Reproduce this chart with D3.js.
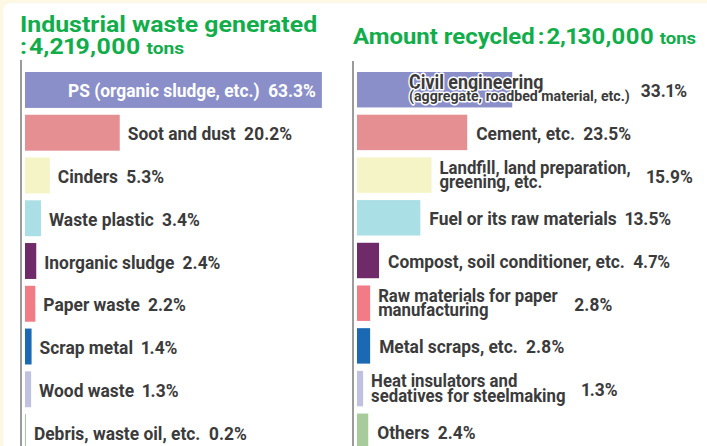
<!DOCTYPE html>
<html><head><meta charset="utf-8">
<script src="https://cdn.jsdelivr.net/npm/d3@7"></script>
<style>body{margin:0;background:#fff}svg{display:block}text{font-variant-numeric:proportional-nums;font-feature-settings:"pnum" 1}</style>
</head><body>
<script>
// ---- data ----
const leftTitle = ["Industrial waste generated", ":", "4,219,000", "tons"];
const rightTitle = ["Amount recycled", ":", "2,130,000", "tons"];
const leftCategories = ["PS (organic sludge, etc.)", "Soot and dust", "Cinders", "Waste plastic", "Inorganic sludge", "Paper waste", "Scrap metal", "Wood waste", "Debris, waste oil, etc."];
const leftValues = [63.3, 20.2, 5.3, 3.4, 2.4, 2.2, 1.4, 1.3, 0.2];
const rightCategories = [["Civil engineering", "(aggregate, roadbed material, etc.)"], ["Cement, etc."], ["Landfill, land preparation,", "greening, etc."], ["Fuel or its raw materials"], ["Compost, soil conditioner, etc."], ["Raw materials for paper", "manufacturing"], ["Metal scraps, etc."], ["Heat insulators and", "sedatives for steelmaking"], ["Others"]];
const rightValues = [33.1, 23.5, 15.9, 13.5, 4.7, 2.8, 2.8, 1.3, 2.4];
const colors = ["#8a8fc9", "#e58f93", "#f5f4c6", "#abdfe6", "#6f2b69", "#f27c86", "#1b68b3", "#c0c0e0", "#a8cb9c"];

// ---- layout ----
const W = 707, H = 446;
const FONT = "Roboto, 'Noto Sans', sans-serif";
const CF = 0.915;  // label horizontal scale
const TCF = 1.13;  // title horizontal scale
const GREEN = "#12ad4b", TXT = "#3b3b3b";

const svg = d3.select("body").append("svg").attr("width", W).attr("height", H);
svg.append("rect").attr("width", W).attr("height", H).attr("fill", "#fdf8e3");
svg.append("rect").attr("x", 3).attr("y", 3).attr("width", W + 20).attr("height", H + 20).attr("rx", 8).attr("fill", "#fff");

const x = d3.scaleLinear().domain([0, 100]).range([0, 469]);
const yL = d3.scaleBand().domain(d3.range(leftValues.length)).range([72, 450]).paddingInner(0.16).paddingOuter(0);
const yR = d3.scaleBand().domain(d3.range(rightValues.length)).range([72, 449]).paddingInner(0.17).paddingOuter(0);

function ctext(g, px, py, size, fill, k = CF) {
  const t = g.append("text").attr("font-family", FONT).attr("font-weight", 700)
    .attr("font-size", size).attr("fill", fill);
  t.node().__k = k;
  place(t, px, py);
  return t;
}
function place(t, px, py) { t.attr("transform", `translate(${px},${py}) scale(${t.node().__k},1)`); }
function width(t) { const b = t.node().getBBox(); return (b.x + b.width) * t.node().__k; }

// titles
function title(parts, px, py, maxRight) {
  const g = svg.append("g");
  let cx = 0;
  if (parts[0]) { const a = ctext(g, cx, 0, 22, GREEN, TCF).text(parts[0]); cx += width(a) + 3; }
  const c = ctext(g, cx, 0, 22, GREEN, TCF).text(parts[1]); cx += width(c) + 2;
  const n = ctext(g, cx, 0, 22, GREEN, TCF).text(parts[2]); cx += width(n) + 6;
  const t = ctext(g, cx, 0, 17, GREEN, TCF).text(parts[3]); cx += width(t);
  const s = Math.min(1, (maxRight - px) / cx);
  g.attr("transform", `translate(${px},${py}) scale(${s},1)`);
}
ctext(svg, 20, 32, 22, GREEN, TCF).text(leftTitle[0]);
title(["", leftTitle[1], leftTitle[2], leftTitle[3]], 20, 54, 340);
title(rightTitle, 353, 44, 696);

// axis lines
const axL = d3.axisLeft(yL).tickSize(0).tickFormat("");
svg.append("g").attr("transform", "translate(21,0)").call(axL).call(g => g.select(".domain").attr("d", "M0,60V446").attr("stroke", "#9b9b9b").attr("stroke-width", 2));
const axR = d3.axisLeft(yR).tickSize(0).tickFormat("");
svg.append("g").attr("transform", "translate(353,0)").call(axR).call(g => g.select(".domain").attr("d", "M0,61V446").attr("stroke", "#9b9b9b").attr("stroke-width", 2));

// left bars
const x0L = 25;
const gL = svg.append("g");
gL.selectAll("rect").data(leftValues).join("rect")
  .attr("x", x0L).attr("y", (d, i) => yL(i)).attr("width", d => Math.max(1, x(d))).attr("height", yL.bandwidth())
  .attr("fill", (d, i) => colors[i]);
leftValues.forEach((v, i) => {
  const cy = yL(i) + yL.bandwidth() / 2 + 7.5;
  const inside = v > 30;
  const t = ctext(gL, 0, 0, 19, inside ? "#fff" : TXT);
  t.append("tspan").text(leftCategories[i]);
  t.append("tspan").attr("dx", 9).text(v.toFixed(1) + "%");
  const w = width(t);
  const px = inside ? x0L + x(v) - 6 - w : x0L + x(v) + 8;
  place(t, px, cy);
});

// right bars
const x0R = 357;
const gR = svg.append("g");
gR.selectAll("rect").data(rightValues).join("rect")
  .attr("x", x0R).attr("y", (d, i) => yR(i)).attr("width", d => x(d)).attr("height", yR.bandwidth())
  .attr("fill", (d, i) => colors[i]);
rightValues.forEach((v, i) => {
  const lines = rightCategories[i];
  const top = yR(i), bh = yR.bandwidth(), cy = top + bh / 2;
  const pctStr = v.toFixed(1) + "%";
  const barEnd = x0R + x(v);
  if (lines.length === 1) {
    const t = ctext(gR, 0, 0, 19, TXT);
    t.append("tspan").text(lines[0]);
    t.append("tspan").attr("dx", 9).text(pctStr);
    place(t, barEnd + 9, cy + 7.5);
    return;
  }
  const note = lines[1].startsWith("(");
  const s1 = note ? 19.5 : 18.3;
  const s2 = note ? 15.5 : s1;
  const b1 = note ? cy - 1 : cy - 1.5;
  const b2 = note ? cy + 11 : cy + 13;
  const l1 = ctext(gR, 0, 0, s1, TXT).text(lines[0]);
  const l2 = ctext(gR, 0, 0, s2, TXT).text(lines[1]);
  const pt = ctext(gR, 0, 0, 19, TXT).text(pctStr);
  const lw = Math.max(width(l1), width(l2));
  const gap = note ? 11 : 16;
  let lx = barEnd + 8;
  if (v > 30) lx = 687 - (lw + gap + width(pt));
  [l1, l2].forEach(t => t.attr("stroke", "#fff").attr("stroke-width", 3).attr("paint-order", "stroke").attr("stroke-linejoin", "round"));
  place(l1, lx, b1);
  place(l2, lx, b2);
  place(pt, lx + lw + gap, cy + 7.5);
});
</script>
</body></html>
